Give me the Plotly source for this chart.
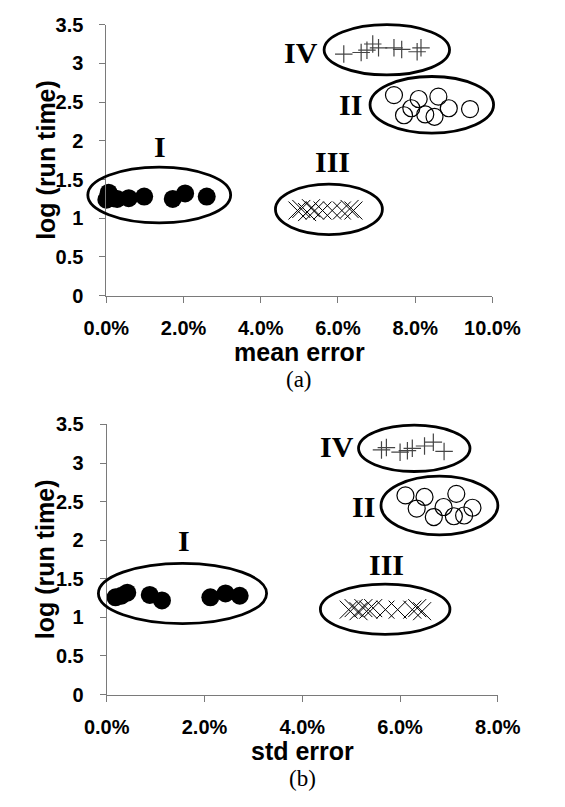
import plotly.graph_objects as go

W, H = 565, 807

# ---------------- data (x in %, y = log(run time)) ----------------
# Panel (a): mean error
a_I_x = [0.0, 0.06, 0.18, 0.28, 0.58, 0.98, 1.72, 2.04, 2.6]
a_I_y = [1.24, 1.33, 1.26, 1.25, 1.26, 1.28, 1.25, 1.32, 1.28]
a_II_x = [7.45, 7.71, 7.90, 8.09, 8.26, 8.50, 8.60, 8.87, 9.42]
a_II_y = [2.59, 2.33, 2.42, 2.54, 2.34, 2.31, 2.57, 2.42, 2.41]
a_III_x = [4.95, 5.05, 5.20, 5.30, 5.40, 5.60, 5.85, 6.10, 6.30, 6.40]
a_III_y = [1.10, 1.12, 1.08, 1.13, 1.10, 1.10, 1.10, 1.10, 1.12, 1.10]
a_IV_x = [6.15, 6.60, 6.75, 6.90, 7.05, 7.45, 7.65, 8.05, 8.15]
a_IV_y = [3.12, 3.14, 3.17, 3.25, 3.20, 3.20, 3.18, 3.15, 3.20]

# Panel (b): std error
b_I_x = [0.18, 0.30, 0.42, 0.88, 1.13, 2.12, 2.43, 2.72]
b_I_y = [1.26, 1.28, 1.32, 1.29, 1.22, 1.26, 1.31, 1.28]
b_II_x = [6.11, 6.34, 6.50, 6.69, 6.89, 7.10, 7.15, 7.31, 7.48]
b_II_y = [2.58, 2.41, 2.56, 2.30, 2.43, 2.31, 2.60, 2.32, 2.42]
b_III_x = [4.95, 5.05, 5.15, 5.25, 5.35, 5.45, 5.70, 5.95, 6.25, 6.35, 6.45]
b_III_y = [1.10, 1.12, 1.08, 1.12, 1.10, 1.12, 1.10, 1.10, 1.10, 1.12, 1.08]
b_IV_x = [5.62, 5.72, 6.00, 6.15, 6.25, 6.50, 6.68, 6.90]
b_IV_y = [3.17, 3.20, 3.14, 3.16, 3.19, 3.22, 3.27, 3.15]

# cluster outlines: (x0, x1, y0, y1) in data units
a_groups = {"I": (-0.48, 3.22, 0.94, 1.66), "III": (4.38, 7.15, 0.79, 1.44),
            "IV": (5.64, 8.89, 2.85, 3.50), "II": (6.83, 10.03, 2.10, 2.83)}
b_groups = {"I": (-0.17, 3.27, 0.92, 1.70), "III": (4.37, 7.02, 0.78, 1.43),
            "IV": (5.15, 7.43, 2.89, 3.49), "II": (5.61, 8.00, 2.07, 2.83)}
# cluster label positions
a_labels = {"I": (1.39, 1.92), "III": (5.87, 1.73), "II": (6.33, 2.47), "IV": (5.04, 3.14)}
b_labels = {"I": (1.58, 1.99), "III": (5.72, 1.69), "II": (5.25, 2.44), "IV": (4.72, 3.21)}

x_ticks_a = [0, 2, 4, 6, 8, 10]
x_ticks_b = [0, 2, 4, 6, 8]
y_ticks = [0, 0.5, 1, 1.5, 2, 2.5, 3, 3.5]

# ---------------- layout geometry (pixels) ----------------
A = dict(x0=91.8, x1=517.0, ybot=292.7, ytop=14.0, xr=(0, 10), yr=(0, 3.5))
B = dict(x0=92.2, x1=523.0, ybot=702.7, ytop=425.0, xr=(0, 8), yr=(0, 3.5))


def dom_x(P):
    return [P["x0"] / W, P["x1"] / W]


def dom_y(P):
    return [1 - P["ybot"] / H, 1 - P["ytop"] / H]


def to_paper(P, x, y):
    dx, dy = dom_x(P), dom_y(P)
    px = dx[0] + (x - P["xr"][0]) / (P["xr"][1] - P["xr"][0]) * (dx[1] - dx[0])
    py = dy[0] + (y - P["yr"][0]) / (P["yr"][1] - P["yr"][0]) * (dy[1] - dy[0])
    return px, py


SANS = "Liberation Sans, Arial, sans-serif"
SERIF = "Liberation Serif, Times New Roman, serif"

fig = go.Figure()


def add_panel(xa, ya, I, II, III, IV):
    fig.add_trace(go.Scatter(x=I[0], y=I[1], mode="markers", xaxis=xa, yaxis=ya,
                             marker=dict(symbol="circle", size=18, color="black",
                                         line=dict(width=0)), cliponaxis=False))
    fig.add_trace(go.Scatter(x=II[0], y=II[1], mode="markers", xaxis=xa, yaxis=ya,
                             marker=dict(symbol="circle-open", size=17, color="black",
                                         line=dict(width=1.2, color="black")), cliponaxis=False))
    fig.add_trace(go.Scatter(x=III[0], y=III[1], mode="markers", xaxis=xa, yaxis=ya,
                             marker=dict(symbol="x-thin", size=18, color="black",
                                         line=dict(width=1.0, color="black")), cliponaxis=False))
    fig.add_trace(go.Scatter(x=IV[0], y=IV[1], mode="markers", xaxis=xa, yaxis=ya,
                             marker=dict(symbol="cross-thin", size=12.5, color="#444",
                                         line=dict(width=1.2, color="#444")), cliponaxis=False))


add_panel("x", "y", (a_I_x, a_I_y), (a_II_x, a_II_y), (a_III_x, a_III_y), (a_IV_x, a_IV_y))
add_panel("x2", "y2", (b_I_x, b_I_y), (b_II_x, b_II_y), (b_III_x, b_III_y), (b_IV_x, b_IV_y))

shapes = []
for P, groups in ((A, a_groups), (B, b_groups)):
    for name, (x0, x1, y0, y1) in groups.items():
        px0, py0 = to_paper(P, x0, y0)
        px1, py1 = to_paper(P, x1, y1)
        shapes.append(dict(type="circle", xref="paper", yref="paper",
                           x0=px0, x1=px1, y0=py0, y1=py1,
                           line=dict(color="black", width=2.8), layer="above"))

annotations = []
for xa, ya, labels in (("x", "y", a_labels), ("x2", "y2", b_labels)):
    for name, (lx, ly) in labels.items():
        annotations.append(dict(x=lx, y=ly, xref=xa, yref=ya, text="<b>%s</b>" % name,
                                showarrow=False, xanchor="center", yanchor="middle",
                                font=dict(family=SERIF, size=30, color="black")))

for P, xt, cap, cap_y in ((A, "mean error", "(a)", 378.5), (B, "std error", "(b)", 789.0)):
    dx, dy = dom_x(P), dom_y(P)
    annotations.append(dict(x=(dx[0] + dx[1]) / 2, y=1 - (P["ybot"] + 58) / H,
                            xref="paper", yref="paper", text="<b>%s</b>" % xt, showarrow=False,
                            xanchor="center", yanchor="middle",
                            font=dict(family=SANS, size=25, color="black")))
    annotations.append(dict(x=(dx[0] + dx[1]) / 2, y=1 - cap_y / H,
                            xref="paper", yref="paper", text=cap, showarrow=False,
                            xanchor="center", yanchor="middle",
                            font=dict(family=SERIF, size=23, color="black")))
    annotations.append(dict(x=25 / W, y=(dy[0] + dy[1]) / 2, xref="paper", yref="paper",
                            text="<b>log (run time)</b>", showarrow=False, textangle=-90,
                            xanchor="center", yanchor="middle",
                            font=dict(family=SANS, size=25, color="black")))

axis_common = dict(showline=True, linecolor="#7a7a7a", linewidth=1, ticks="outside",
                   ticklen=6, tickcolor="#7a7a7a", tickwidth=1, showgrid=False,
                   zeroline=False, tickfont=dict(family=SANS, size=20, color="black",
                                                 weight="bold"))

fig.update_layout(
    width=W, height=H, margin=dict(l=0, r=0, t=0, b=0),
    paper_bgcolor="white", plot_bgcolor="white", showlegend=False,
    xaxis=dict(domain=dom_x(A), range=list(A["xr"]), tickvals=x_ticks_a,
               ticktext=["%.1f%%" % v for v in x_ticks_a], anchor="y",
               ticklabelstandoff=8, **axis_common),
    yaxis=dict(domain=dom_y(A), range=list(A["yr"]), tickvals=y_ticks, anchor="x",
               ticklabelstandoff=12, **axis_common),
    xaxis2=dict(domain=dom_x(B), range=list(B["xr"]), tickvals=x_ticks_b,
                ticktext=["%.1f%%" % v for v in x_ticks_b], anchor="y2",
                ticklabelstandoff=8, **axis_common),
    yaxis2=dict(domain=dom_y(B), range=list(B["yr"]), tickvals=y_ticks, anchor="x2",
                ticklabelstandoff=12, **axis_common),
    shapes=shapes, annotations=annotations,
)

fig.write_html("out.html", config={"displayModeBar": False},
               post_script="document.body.style.margin='0';document.body.style.overflow='hidden';")
